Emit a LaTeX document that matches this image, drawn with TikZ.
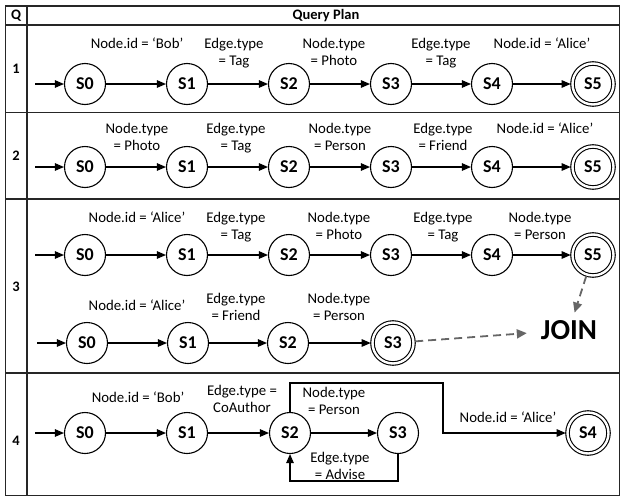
\documentclass[tikz,border=0pt]{standalone}
\usepackage{fontspec}
\setmainfont{Carlito}
\usetikzlibrary{arrows.meta}
\begin{document}
\begin{tikzpicture}[x=1pt,y=-1pt,
  grid/.style={draw=black!85, line width=1.5pt},
  hdr/.style={inner sep=0pt, font=\fontsize{14.5}{14.5}\selectfont\bfseries},
  st/.style={circle, draw, line width=1.1pt, minimum size=41pt, inner sep=0pt,
             font=\fontsize{18}{18}\selectfont\bfseries},
  fin/.style={st, double, double distance=2.4pt, outer sep=1.8pt},
  tr/.style={-{Triangle[length=9pt,width=7.5pt]}, line width=1.1pt},
  % base anchor of a two-line label sits on its last line
  lbl/.style={align=center, anchor=base, inner sep=0pt,
              font=\fontsize{14.8}{17}\selectfont},
  jn/.style={draw=black!60, line width=1.8pt, dash pattern=on 8pt off 5pt,
             -{Triangle[length=10pt,width=9pt,fill=black!60]}}
]
\useasboundingbox (0,0) rectangle (624,498);

% table frame
\draw[grid] (5.5,6) rectangle (619.5,495.5);
\draw[grid] (5.5,25) -- (619.5,25);
\draw[grid] (5.5,112.5) -- (619.5,112.5);
\draw[grid] (5.5,199) -- (619.5,199);
\draw[grid] (5.5,373) -- (619.5,373);
\draw[grid] (27,6) -- (27,495.5);

\node[hdr] (hq) at (16,15.5) {Q};
\node[hdr] (hp) at (326,15.5) {Query Plan};
\node[hdr] (q1) at (16,69) {1};
\node[hdr] (q2) at (16,156) {2};
\node[hdr] (q3) at (16,287) {3};
\node[hdr] (q4) at (16,441) {4};

% ---- query 1
\node[st]  (a0) at (85,84) {S0};
\node[st]  (a1) at (187,84) {S1};
\node[st]  (a2) at (289,84) {S2};
\node[st]  (a3) at (391,84) {S3};
\node[st]  (a4) at (492,84) {S4};
\node[fin] (a5) at (593,84) {S5};
\coordinate (ain) at (35,84);
\draw[tr] (ain) -- (a0);
\draw[tr] (a0) -- (a1);
\draw[tr] (a1) -- (a2);
\draw[tr] (a2) -- (a3);
\draw[tr] (a3) -- (a4);
\draw[tr] (a4) -- (a5);
\node[lbl] (la1) at (137,48) {Node.id = ‘Bob’};
\node[lbl] (la2) at (234,65) {Edge.type\\= Tag};
\node[lbl] (la3) at (334,65) {Node.type\\= Photo};
\node[lbl] (la4) at (441,65) {Edge.type\\= Tag};
\node[lbl] (la5) at (542,48) {Node.id = ‘Alice’};

% ---- query 2
\node[st]  (b0) at (85,167) {S0};
\node[st]  (b1) at (187,167) {S1};
\node[st]  (b2) at (289,167) {S2};
\node[st]  (b3) at (391,167) {S3};
\node[st]  (b4) at (492,167) {S4};
\node[fin] (b5) at (593,167) {S5};
\coordinate (bin) at (35,167);
\draw[tr] (bin) -- (b0);
\draw[tr] (b0) -- (b1);
\draw[tr] (b1) -- (b2);
\draw[tr] (b2) -- (b3);
\draw[tr] (b3) -- (b4);
\draw[tr] (b4) -- (b5);
\node[lbl] (lb1) at (137,150) {Node.type\\= Photo};
\node[lbl] (lb2) at (236,150) {Edge.type\\= Tag};
\node[lbl] (lb3) at (340,150) {Node.type\\= Person};
\node[lbl] (lb4) at (443,150) {Edge.type\\= Friend};
\node[lbl] (lb5) at (545,133) {Node.id = ‘Alice’};

% ---- query 3, first branch
\node[st]  (c0) at (85,255) {S0};
\node[st]  (c1) at (187,255) {S1};
\node[st]  (c2) at (289,255) {S2};
\node[st]  (c3) at (391,255) {S3};
\node[st]  (c4) at (492,255) {S4};
\node[fin] (c5) at (593,255) {S5};
\coordinate (cin) at (35,255);
\draw[tr] (cin) -- (c0);
\draw[tr] (c0) -- (c1);
\draw[tr] (c1) -- (c2);
\draw[tr] (c2) -- (c3);
\draw[tr] (c3) -- (c4);
\draw[tr] (c4) -- (c5);
\node[lbl] (lc1) at (137,222) {Node.id = ‘Alice’};
\node[lbl] (lc2) at (236,239) {Edge.type\\= Tag};
\node[lbl] (lc3) at (339,239) {Node.type\\= Photo};
\node[lbl] (lc4) at (443,239) {Edge.type\\= Tag};
\node[lbl] (lc5) at (540,239) {Node.type\\= Person};

% ---- query 3, second branch
\node[st]  (e0) at (87,343) {S0};
\node[st]  (e1) at (188,343) {S1};
\node[st]  (e2) at (288,343) {S2};
\node[fin] (e3) at (393,343) {S3};
\coordinate (ein) at (37,343);
\draw[tr] (ein) -- (e0);
\draw[tr] (e0) -- (e1);
\draw[tr] (e1) -- (e2);
\draw[tr] (e2) -- (e3);
\node[lbl] (le1) at (137,310) {Node.id = ‘Alice’};
\node[lbl] (le2) at (236,320) {Edge.type\\= Friend};
\node[lbl] (le3) at (339,320) {Node.type\\= Person};

% join of both branches
\node[inner sep=0pt, font=\fontsize{29}{29}\selectfont\bfseries] (join) at (569,330) {JOIN};
\draw[jn, shorten >=8pt] (c5) -- (join);
\draw[jn, shorten >=14pt] (e3) -- (join);

% ---- query 4
\node[st]  (d0) at (85,433) {S0};
\node[st]  (d1) at (187,433) {S1};
\node[st]  (d2) at (290,433) {S2};
\node[st]  (d3) at (398,433) {S3};
\node[fin] (d4) at (588,433) {S4};
\coordinate (din) at (35,433);
\coordinate (dtop) at (443,383);
\coordinate (dbot) at (290,481);
\draw[tr] (din) -- (d0);
\draw[tr] (d0) -- (d1);
\draw[tr] (d1) -- (d2);
\draw[tr] (d2) -- (d3);
\draw[tr] (d2) |- (dtop) |- (d4);
\draw[tr] (d3) |- (dbot) -- (d2);
\node[lbl] (ld1) at (138,402) {Node.id = ‘Bob’};
\node[lbl] (ld2) at (242,412) {Edge.type =\\CoAuthor};
\node[lbl] (ld3) at (334,414) {Node.type\\= Person};
\node[lbl] (ld4) at (340,479) {Edge.type\\= Advise};
\node[lbl] (ld5) at (508,422) {Node.id = ‘Alice’};
\end{tikzpicture}
\end{document}
